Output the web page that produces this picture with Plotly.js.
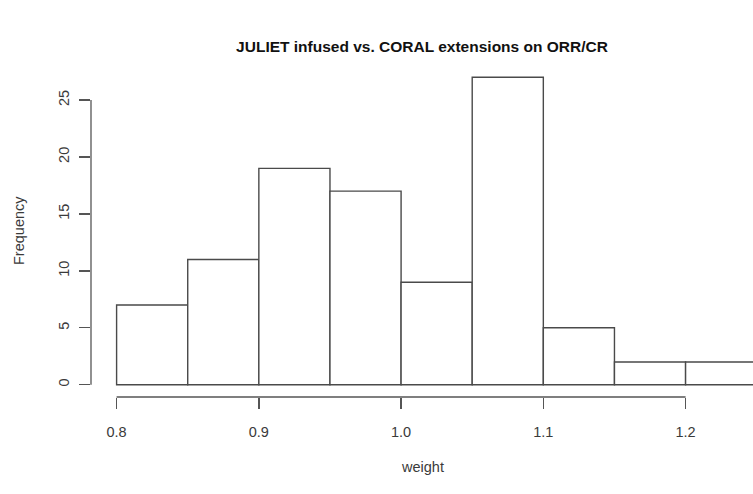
<!DOCTYPE html>
<html>
<head>
<meta charset="utf-8">
<script src="https://cdn.plot.ly/plotly-3.0.1.min.js"></script>
<style>html,body{margin:0;padding:0;background:#fff;}#chart{width:753px;height:494px;}</style>
</head>
<body>
<div id="chart"></div>
<script>
// Data
const binEdges = [0.80, 0.85, 0.90, 0.95, 1.00, 1.05, 1.10, 1.15, 1.20, 1.25];
const counts   = [7, 11, 19, 17, 9, 27, 5, 2, 2];
const xTicks   = [0.8, 0.9, 1.0, 1.1, 1.2];
const xTickLabels = ["0.8", "0.9", "1.0", "1.1", "1.2"];
const yTicks   = [0, 5, 10, 15, 20, 25];
const yTickLabels = ["0", "5", "10", "15", "20", "25"];

const mids = counts.map((c, i) => (binEdges[i] + binEdges[i + 1]) / 2);
const widths = counts.map((c, i) => binEdges[i + 1] - binEdges[i]);

const axisColor = '#555';
const font = {family: 'Liberation Sans, Arial, sans-serif', size: 14.5, color: '#3a3a3a'};

const trace = {
  type: 'bar',
  x: mids,
  y: counts,
  width: widths,
  marker: {color: '#ffffff', line: {color: '#4a4a4a', width: 1.4}},
  hoverinfo: 'x+y',
  cliponaxis: true
};

const layout = {
  width: 753, height: 494,
  margin: {l: 91, r: 0, t: 65, b: 97, pad: 0},
  paper_bgcolor: '#fff', plot_bgcolor: '#fff',
  showlegend: false,
  bargap: 0,
  font: font,
  title: {
    text: 'JULIET infused vs. CORAL extensions on ORR/CR',
    font: {family: 'Liberation Sans, Arial, sans-serif', size: 15.5, color: '#111', weight: 'bold'},
    x: 0.5, xref: 'paper', xanchor: 'center',
    y: 1 - 47 / 494, yref: 'container', yanchor: 'middle'
  },
  xaxis: {
    range: [0.782, 1.2474],
    tickmode: 'array', tickvals: xTicks, ticktext: xTickLabels,
    ticks: 'outside', ticklen: 11, tickwidth: 1.3, tickcolor: axisColor,
    showline: false, showgrid: false, zeroline: false,
    tickfont: font,
    ticklabelstandoff: 11,
    fixedrange: true
  },
  yaxis: {
    range: [-1.08, 28.08],
    tickmode: 'array', tickvals: yTicks, ticktext: yTickLabels,
    ticks: 'outside', ticklen: 11, tickwidth: 1.3, tickcolor: axisColor,
    tickangle: -90,
    showline: false, showgrid: false, zeroline: false,
    tickfont: font,
    ticklabelstandoff: 4,
    fixedrange: true
  },
  annotations: [
    {text: 'weight', xref: 'paper', yref: 'paper', x: 0.5, y: 0, yshift: -70,
     xanchor: 'center', yanchor: 'middle', showarrow: false, font: font},
    {text: 'Frequency', xref: 'paper', yref: 'paper', x: 0, y: 0.5, xshift: -72,
     xanchor: 'center', yanchor: 'middle', textangle: -90, showarrow: false, font: font}
  ],
  shapes: [
    {type: 'line', xref: 'x', yref: 'paper', x0: xTicks[0], x1: xTicks[xTicks.length - 1], y0: 0, y1: 0,
     line: {color: axisColor, width: 1.3}},
    {type: 'line', xref: 'paper', yref: 'y', x0: 0, x1: 0, y0: yTicks[0], y1: yTicks[yTicks.length - 1],
     line: {color: axisColor, width: 1.3}}
  ]
};

Plotly.newPlot('chart', [trace], layout, {displayModeBar: false, staticPlot: true});
</script>
</body>
</html>
